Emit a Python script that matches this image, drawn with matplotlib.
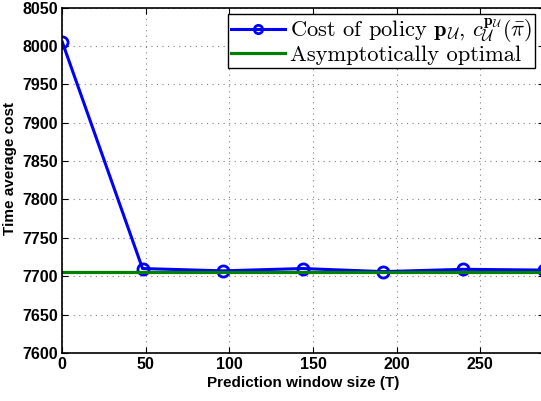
import matplotlib
matplotlib.use("Agg")
import matplotlib.pyplot as plt
import numpy as np

# prediction window sizes and measured costs
window = [0, 48, 96, 144, 192, 240, 288]
cost_policy = [8005, 7710, 7707, 7710, 7706, 7709, 7708]
optimal = 7706

plt.rcParams['mathtext.fontset'] = 'cm'

fig = plt.figure(figsize=(5.41, 4.01), dpi=100)
ax = fig.add_axes([62.3 / 541, 1 - 353 / 401, (543.6 - 62.3) / 541, (353 - 7.5) / 401])

ax.plot(window, cost_policy, color='#0000ff', lw=2.2, marker='o', ms=8,
        mfc='none', mec='#0000ff', mew=2,
        label=r'Cost of policy $\mathbf{p}_{\mathcal{U}}$, $c_{\mathcal{U}}^{\mathbf{p}_{\mathcal{U}}}(\bar{\pi})$')
ax.plot([window[0], window[-1]], [optimal, optimal], color='#008000', lw=2.3,
        label='Asymptotically optimal')

ax.set_xlim(0, 288)
ax.set_ylim(7600, 8050)
ax.set_xticks([0, 50, 100, 150, 200, 250])
ax.set_yticks(np.arange(7600, 8051, 50))
ax.grid(True, color='#808080', linestyle=(0, (1, 4)), lw=0.8)
ax.tick_params(direction='in', top=True, right=True, length=4, pad=3)
for lab in ax.get_xticklabels() + ax.get_yticklabels():
    lab.set_fontweight('bold')
    lab.set_family('Liberation Sans')
    lab.set_fontsize(11.5)
for s in ax.spines.values():
    s.set_linewidth(1.2)

ax.set_xlabel('Prediction window size (T)', fontsize=11, fontweight='bold',
              family='Liberation Sans', labelpad=3)
ax.set_ylabel('Time average cost', fontsize=11, fontweight='bold',
              family='Liberation Sans')
ax.yaxis.set_label_coords(-0.094, 0.535)

leg = ax.legend(loc='upper right', bbox_to_anchor=(535 / 541, 1 - 14 / 401),
                bbox_transform=fig.transFigure, prop={'family': 'cmr10', 'size': 16.2},
                fancybox=False, edgecolor='black', framealpha=1, markerscale=0.75,
                borderpad=0.12, labelspacing=0.02, handlelength=2.4,
                handletextpad=0.25, borderaxespad=0)
leg.get_frame().set_linewidth(1.0)

fig.savefig('out.png', dpi=100)
